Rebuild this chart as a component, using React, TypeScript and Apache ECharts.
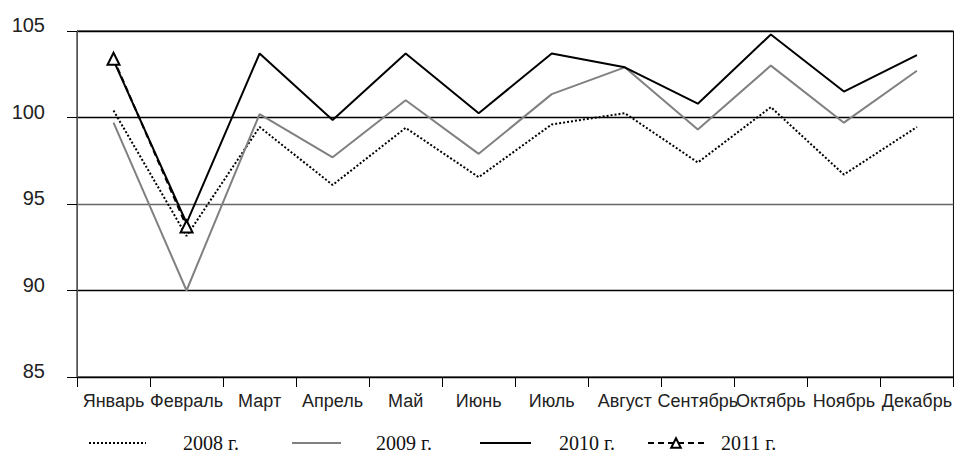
import React, { useEffect, useRef } from "react";
import * as echarts from "echarts";

const months = ["Январь", "Февраль", "Март", "Апрель", "Май", "Июнь", "Июль", "Август", "Сентябрь", "Октябрь", "Ноябрь", "Декабрь"];
const s2008 = [100.4, 93.15, 99.45, 96.1, 99.4, 96.55, 99.6, 100.25, 97.4, 100.6, 96.7, 99.45];
const s2009 = [99.7, 90.0, 100.2, 97.7, 101.0, 97.9, 101.35, 102.9, 99.3, 103.0, 99.7, 102.7];
const s2010 = [103.3, 93.9, 103.7, 99.85, 103.7, 100.25, 103.7, 102.9, 100.8, 104.8, 101.5, 103.6];
const s2011 = [103.4, 93.7];
const seriesNames = ["2008 г.", "2009 г.", "2010 г.", "2011 г."];
const yTicks = { min: 85, max: 105, interval: 5 };

const legendLayout = [
  { left: 88, width: 57, pad: 32 },
  { left: 291, width: 49, pad: 30 },
  { left: 479, width: 51, pad: 23 },
  { left: 647, width: 56, pad: 12 },
];

export default function App() {
  const ref = useRef<HTMLDivElement>(null);
  useEffect(() => {
    if (!ref.current) return;
    const chart = echarts.init(ref.current, null, { renderer: "svg" });
    const legends = seriesNames.map((name, i) => ({
      left: legendLayout[i].left,
      top: 433,
      padding: 0,
      itemWidth: legendLayout[i].width,
      itemHeight: 12,
      selectedMode: false,
      data: [
        i < 3
          ? { name, itemStyle: { color: "transparent", borderColor: "transparent", borderWidth: 0 } }
          : { name },
      ],
      textStyle: {
        fontFamily: "'Liberation Serif', 'DejaVu Serif', serif",
        fontSize: 20,
        color: "#111",
        padding: [0, 0, 0, legendLayout[i].pad],
      },
    }));
    chart.setOption({
      animation: false,
      backgroundColor: "#fff",
      grid: { left: 77, right: 1, top: 31, bottom: 82, show: true, borderColor: "#000", borderWidth: 1, backgroundColor: "transparent" },
      legend: legends,
      xAxis: {
        type: "category",
        data: months,
        boundaryGap: true,
        axisLine: { lineStyle: { color: "#000", width: 1 } },
        axisTick: { show: true, length: 10, interval: 0, lineStyle: { color: "#000" } },
        axisLabel: { interval: 0, margin: 15, fontSize: 18, color: "#222", fontFamily: "'Liberation Sans', Arial, sans-serif" },
        splitLine: { show: false },
      },
      yAxis: {
        type: "value",
        min: yTicks.min,
        max: yTicks.max,
        interval: yTicks.interval,
        axisLine: { show: true, lineStyle: { color: "#555", width: 1 } },
        axisTick: { show: true, length: 10, lineStyle: { color: "#000" } },
        axisLabel: { margin: 32, fontSize: 20, color: "#222", fontFamily: "'Liberation Sans', Arial, sans-serif", verticalAlign: "bottom", lineHeight: 12 },
        splitLine: { show: true, lineStyle: { color: ["#000", "#000", "#666", "#000", "#000"], width: 1.3 } },
      },
      series: [
        {
          name: seriesNames[0], type: "line", data: s2008, symbol: "none",
          lineStyle: { color: "#000", width: 2, type: [2, 2] }, itemStyle: { color: "#000" },
        },
        {
          name: seriesNames[1], type: "line", data: s2009, symbol: "none",
          lineStyle: { color: "#808080", width: 2 }, itemStyle: { color: "#808080" },
        },
        {
          name: seriesNames[2], type: "line", data: s2010, symbol: "none",
          lineStyle: { color: "#000", width: 2 }, itemStyle: { color: "#000" },
        },
        {
          name: seriesNames[3], type: "line", data: s2011, symbol: "triangle", symbolSize: 12, showSymbol: true,
          lineStyle: { color: "#000", width: 2, type: [6, 4] },
          itemStyle: { color: "#fff", borderColor: "#000", borderWidth: 2 },
          z: 5,
        },
      ],
    });
    return () => chart.dispose();
  }, []);
  return <div ref={ref} style={{ position: "absolute", left: 0, top: 0, width: 955, height: 459 }} />;
}
